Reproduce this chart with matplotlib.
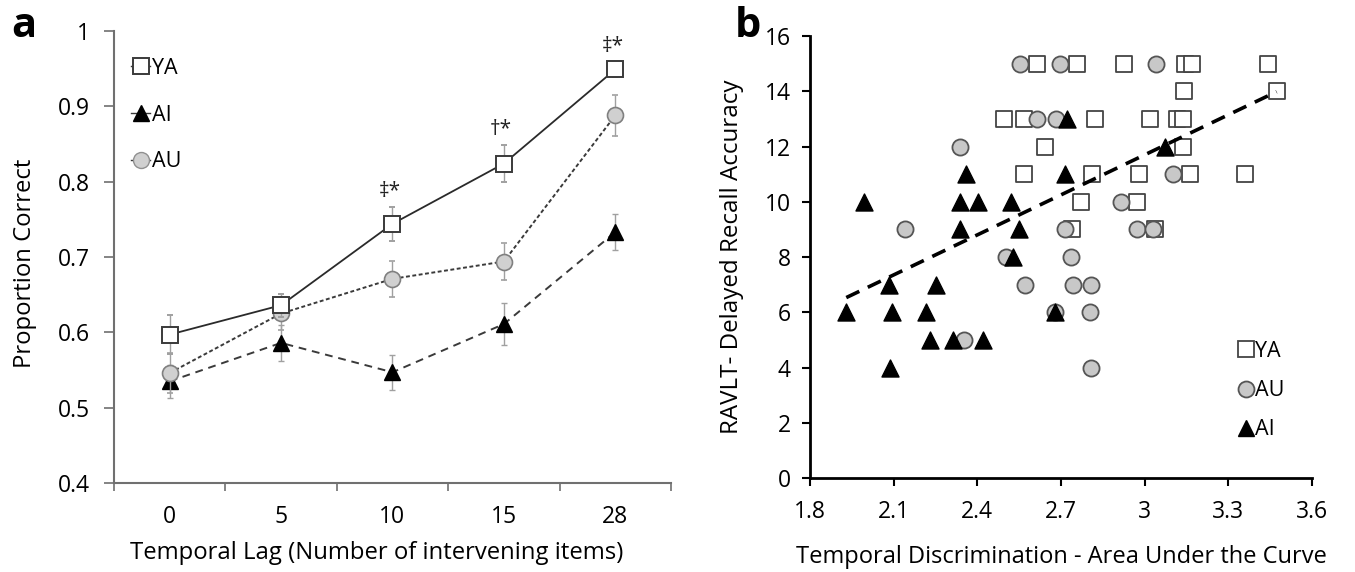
import matplotlib
matplotlib.use("Agg")
import matplotlib.pyplot as plt
from matplotlib.lines import Line2D
from matplotlib.ticker import FuncFormatter
import numpy as np

plt.rcParams['font.family'] = ['Open Sans', 'DejaVu Sans']

# ---- panel a data ----
lags = ['0', '5', '10', '15', '28']
ya_mean = [0.597, 0.636, 0.744, 0.824, 0.949]
ya_err = [0.026, 0.015, 0.023, 0.025, 0.010]
ai_mean = [0.535, 0.586, 0.547, 0.611, 0.733]
ai_err = [0.022, 0.024, 0.023, 0.028, 0.024]
au_mean = [0.546, 0.625, 0.671, 0.694, 0.888]
au_err = [0.026, 0.022, 0.024, 0.025, 0.027]
sig_idx = [2, 3, 4]
sig_marks = ['\u2021*', '\u2020*', '\u2021*']

# ---- panel b data ----
ya_x = [2.613, 2.757, 2.924, 3.144, 3.168, 3.443, 3.141, 3.473,
        2.496, 2.566, 2.822, 3.019, 3.115, 3.138, 2.641, 3.138,
        2.568, 2.811, 2.981, 3.162, 3.359, 2.772, 2.971, 2.739, 3.037]
ya_y = [15, 15, 15, 15, 15, 15, 14, 14,
        13, 13, 13, 13, 13, 13, 12, 12,
        11, 11, 11, 11, 11, 10, 10, 9, 9]
au_x = [2.554, 2.697, 3.041, 2.613, 2.683, 2.339, 3.100, 2.914,
        2.142, 2.715, 2.971, 3.029, 2.504, 2.735, 2.572, 2.742,
        2.807, 2.679, 2.804, 2.353, 2.807]
au_y = [15, 15, 15, 13, 13, 12, 11, 10,
        9, 9, 9, 9, 8, 8, 7, 7,
        7, 6, 6, 5, 4]
ai_x = [2.723, 3.073, 2.360, 2.715, 1.995, 2.339, 2.401, 2.520,
        2.336, 2.551, 2.527, 2.082, 2.253, 1.930, 2.094, 2.217,
        2.679, 2.231, 2.313, 2.420, 2.086]
ai_y = [13, 12, 11, 11, 10, 10, 10, 10,
        9, 9, 8, 7, 7, 6, 6, 6,
        6, 5, 5, 5, 4]
trend_slope, trend_icpt = 4.83, -2.79

fig = plt.figure(figsize=(13.55, 5.72), dpi=100)
axa = fig.add_axes([0.0841, 0.1556, 0.4111, 0.7902])
axb = fig.add_axes([0.5978, 0.1643, 0.3705, 0.7727])

# ---------------- panel a ----------------
pos = np.arange(len(lags))
ebkw = dict(ecolor='#a0a0a0', elinewidth=1.0, capsize=2.5, capthick=1.0)
axa.errorbar(pos, ai_mean, yerr=ai_err, color='#3a3a3a', lw=1.4,
             ls=(0, (4, 3)), marker='^', ms=12, mfc='black', mec='black',
             zorder=3, **ebkw)
axa.errorbar(pos, au_mean, yerr=au_err, color='#3a3a3a', lw=1.4,
             ls=(0, (2, 1.3)), marker='o', ms=11.5, mfc='#d0d0d0', mec='#808080',
             mew=1.2, zorder=4, **ebkw)
axa.errorbar(pos, ya_mean, yerr=ya_err, color='#2a2a2a', lw=1.3,
             ls='-', marker='s', ms=12, mfc='white', mec='#3a3a3a',
             mew=1.4, zorder=5, **ebkw)
for i, s in zip(sig_idx, sig_marks):
    axa.annotate(s, (pos[i], ya_mean[i] + ya_err[i]), xytext=(-2, 11),
                 textcoords='offset points', ha='center', va='center',
                 fontsize=15, color='#222222')

axa.set_xlim(-0.5, len(lags) - 0.5)
axa.set_ylim(0.4, 1.0)
axa.set_yticks(np.arange(0.4, 1.01, 0.1))
axa.yaxis.set_major_formatter(FuncFormatter(lambda v, p: f"{v:g}"))
axa.set_xticks(np.arange(-0.5, len(lags), 1.0))
axa.set_xticklabels([])
axa.set_xticks(pos, minor=True)
axa.set_xticklabels(lags, minor=True)
axa.tick_params(axis='x', which='minor', length=0, pad=16, labelsize=16.5)
axa.tick_params(axis='x', which='major', length=6, width=1.2, color='#707070')
axa.tick_params(axis='y', length=7, width=1.2, color='#707070', labelsize=16.5, pad=10)
for sp in ['top', 'right']:
    axa.spines[sp].set_visible(False)
for sp in ['left', 'bottom']:
    axa.spines[sp].set_color('#707070')
    axa.spines[sp].set_linewidth(1.5)
axa.set_xlabel('Temporal Lag (Number of intervening items)', fontsize=17.2)
axa.set_ylabel('Proportion Correct', fontsize=17.2)
axa.xaxis.set_label_coords(0.472, -0.128)
axa.yaxis.set_label_coords(-0.138, 0.485)

hl = [Line2D([], [], color='#3a3a3a', lw=1.0, marker='s', ms=12, mfc='white', mec='#3a3a3a', mew=1.4),
      Line2D([], [], color='#3a3a3a', lw=1.0, marker='^', ms=12, mfc='black', mec='black'),
      Line2D([], [], color='#3a3a3a', lw=1.0, marker='o', ms=11.5, mfc='#d0d0d0', mec='#909090')]
axa.legend(hl, ['YA', 'AI', 'AU'], loc='upper left', bbox_to_anchor=(0.015, 0.96),
           frameon=False, fontsize=15.5, handlelength=0.9, handletextpad=0.1,
           labelspacing=1.2, borderaxespad=0)

# ---------------- panel b ----------------
axb.scatter(ya_x, ya_y, marker='s', s=125, facecolor='white', edgecolor='#444444',
            linewidth=1.3, zorder=3)
axb.scatter(au_x, au_y, marker='o', s=135, facecolor='#c8c8c8', edgecolor='#555555',
            linewidth=1.3, zorder=4)
axb.scatter(ai_x, ai_y, marker='^', s=150, facecolor='black', edgecolor='black',
            linewidth=1.0, zorder=5)
all_x = np.array(ya_x + au_x + ai_x)
tx = np.array([all_x.min(), all_x.max()])
axb.plot(tx, trend_slope * tx + trend_icpt, color='black', lw=2.6,
         ls=(0, (4, 2.6)), zorder=6)

axb.set_xlim(1.8, 3.6)
axb.set_ylim(0, 16)
axb.set_xticks(np.arange(1.8, 3.61, 0.3))
axb.set_yticks(np.arange(0, 17, 2))
axb.xaxis.set_major_formatter(FuncFormatter(lambda v, p: f"{v:.1f}".rstrip('0').rstrip('.')))
axb.tick_params(length=6, width=1.5, labelsize=16.5, pad=10)
axb.tick_params(axis='y', pad=8)
for sp in ['top', 'right']:
    axb.spines[sp].set_visible(False)
for sp in ['left', 'bottom']:
    axb.spines[sp].set_linewidth(2.0)
axb.set_xlabel('Temporal Discrimination - Area Under the Curve', fontsize=17, labelpad=15)
axb.set_ylabel('RAVLT- Delayed Recall Accuracy', fontsize=17.4, labelpad=15)

hb = [Line2D([], [], ls='', marker='s', ms=11, mfc='white', mec='#444444', mew=1.3),
      Line2D([], [], ls='', marker='o', ms=11.5, mfc='#c8c8c8', mec='#555555', mew=1.3),
      Line2D([], [], ls='', marker='^', ms=12, mfc='black', mec='black')]
axb.legend(hb, ['YA', 'AU', 'AI'], loc='upper left', bbox_to_anchor=(0.835, 0.33),
           frameon=False, fontsize=15.5, handlelength=0.8, handletextpad=0.0,
           labelspacing=0.85, borderaxespad=0)

fig.text(0.008, 0.935, 'a', fontsize=30, fontweight='bold')
fig.text(0.542, 0.935, 'b', fontsize=30, fontweight='bold')

fig.savefig('out.png', dpi=100)
